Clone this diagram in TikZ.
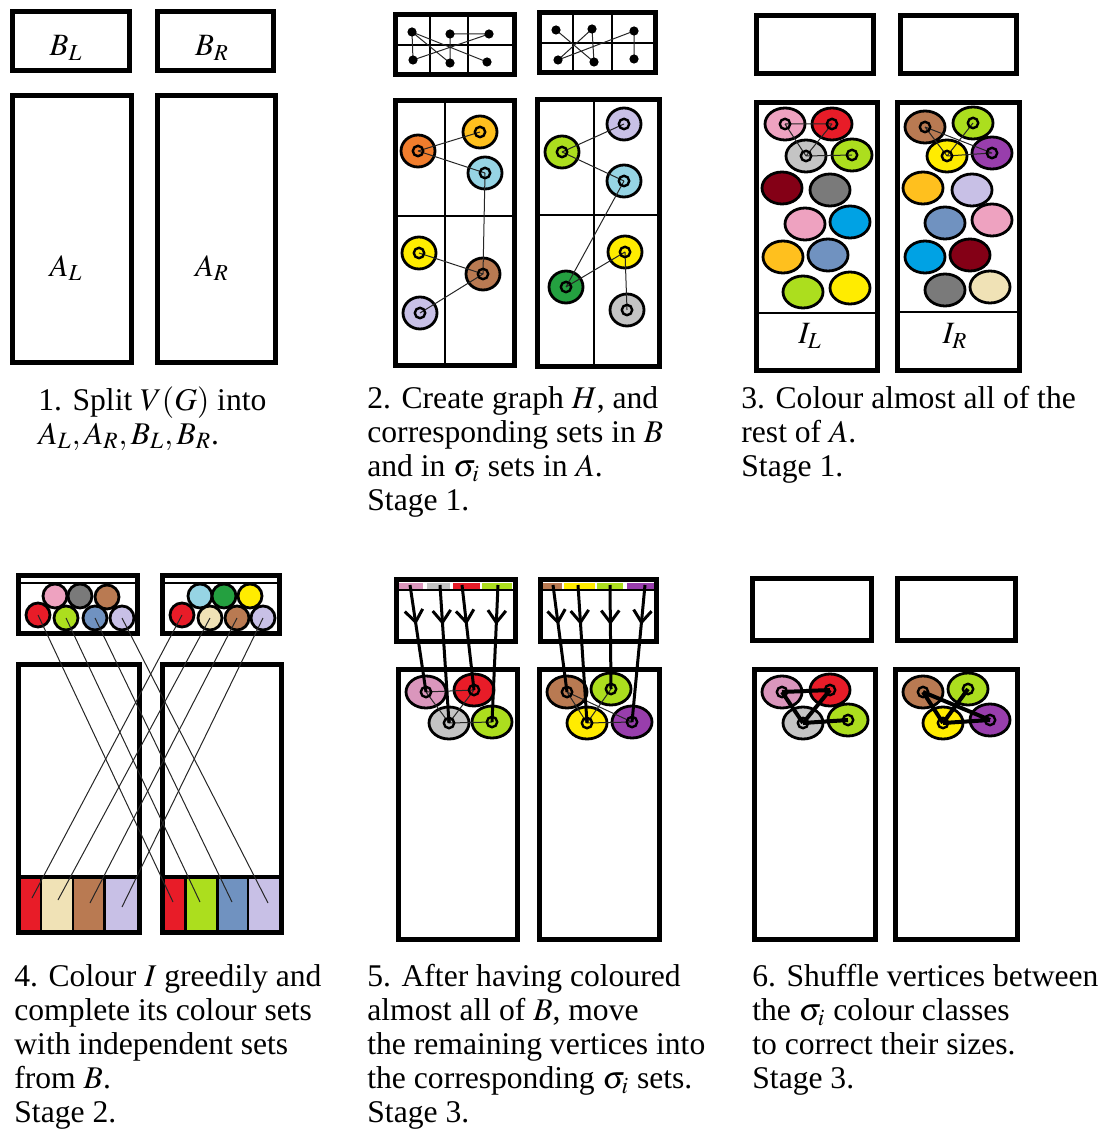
\documentclass[tikz,border=0pt]{standalone}
\usepackage{mathptmx}
\usepackage{fontspec}
\setmainfont{Liberation Serif}
\usetikzlibrary{arrows.meta,decorations.markings}

\definecolor{vOrange}{RGB}{240,125,45}
\definecolor{vGold}{RGB}{255,192,30}
\definecolor{vSky}{RGB}{150,212,228}
\definecolor{vYellow}{RGB}{255,236,0}
\definecolor{vBrown}{RGB}{185,122,82}
\definecolor{vLav}{RGB}{200,192,230}
\definecolor{vLime}{RGB}{172,222,30}
\definecolor{vGreen}{RGB}{36,160,64}
\definecolor{vSilver}{RGB}{196,196,196}
\definecolor{vPink}{RGB}{238,162,192}
\definecolor{vMauve}{RGB}{218,150,188}
\definecolor{vRed}{RGB}{232,28,40}
\definecolor{vMaroon}{RGB}{132,0,22}
\definecolor{vGrey}{RGB}{122,122,122}
\definecolor{vBlue}{RGB}{0,162,228}
\definecolor{vSteel}{RGB}{112,146,192}
\definecolor{vPurple}{RGB}{152,62,172}
\definecolor{vCream}{RGB}{240,226,182}

\tikzset{
  boxline/.style={line width=2.5pt},
  divline/.style={line width=1.4pt},
  vert/.style={line width=1.4pt,draw=black},
  ringline/.style={line width=1.2pt},
  gline/.style={line width=0.5pt,black!85},
  thickline/.style={line width=2pt},
  pushline/.style={line width=1.5pt,postaction={decorate},
    decoration={markings,mark=at position 20pt with {\arrow{Straight Barb[length=6pt,width=9pt]}}}},
  lab/.style={font=\fontsize{15.5}{18}\selectfont,inner sep=0pt},
  captext/.style={font=\fontsize{15.8}{17}\selectfont,align=left,anchor=north west,inner sep=0pt}
}

% vertex: name, position, colour, x radius
\newcommand{\vtx}[4]{\coordinate (#1) at #2;
  \filldraw[vert,fill=#3] (#1) ellipse [x radius=#4,y radius=8pt];}
\newcommand{\vring}[1]{\draw[ringline] (#1) circle [radius=2.6pt];}

\begin{document}
\begin{tikzpicture}[x=0.5pt,y=-0.5pt]
\useasboundingbox (0,0) rectangle (1107,1133);

%%% 1. split
\draw[boxline] (12.5,11.5) rectangle (129,70.5);
\draw[boxline] (157.5,11.5) rectangle (273.5,70.5);
\draw[boxline] (12.5,95.5) rectangle (131.5,362.5);
\draw[boxline] (157.5,95.5) rectangle (275.5,362.5);
\node[lab] (bl) at (66,48) {$B_L$};
\node[lab] (br) at (212,48) {$B_R$};
\node[lab] (al) at (66,268) {$A_L$};
\node[lab] (ar) at (212,268) {$A_R$};

%%% 2. graph H
\draw[divline] (430,14.5) -- (430,74.5) (468,14.5) -- (468,74.5) (395.5,45) -- (514.5,45);
\draw[divline] (573,12.5) -- (573,72.5) (612,12.5) -- (612,72.5) (539.5,43) -- (655.5,43);
\draw[boxline] (395.5,14.5) rectangle (514.5,74.5);
\draw[boxline] (539.5,12.5) rectangle (655.5,72.5);
\foreach \n/\x/\y in {a1/412/32,a2/450/34,a3/489/34,a4/413/60,a5/450/63,a6/487/62,
                      b1/556/30,b2/592/29,b3/634/31,b4/558/60,b5/594/62,b6/634/59}
  {\coordinate (\n) at (\x,\y);}
\draw[gline] (a1) -- (a4) (a1) -- (a5) (a1) -- (a6) (a2) -- (a3) (a3) -- (a4) (a2) -- (a5);
\draw[gline] (b1) -- (b5) (b2) -- (b4) (b4) -- (b3) (b2) -- (b5) (b3) -- (b6);
\foreach \n in {a1,a2,a3,a4,a5,a6,b1,b2,b3,b4,b5,b6}
  {\fill (\n) circle [radius=2.3pt];}

\draw[divline] (445,100.5) -- (445,365.5) (395.5,216) -- (514.5,216);
\draw[divline] (594,99.5) -- (594,366.5) (537.5,215) -- (659.5,215);
\draw[boxline] (395.5,100.5) rectangle (514.5,365.5);
\draw[boxline] (537.5,99.5) rectangle (659.5,366.5);
\vtx{h1}{(418,151)}{vOrange}{8.5pt}
\vtx{h2}{(480,132)}{vGold}{8.5pt}
\vtx{h3}{(485,173)}{vSky}{8.5pt}
\vtx{h4}{(419,253)}{vYellow}{8.5pt}
\vtx{h5}{(483,274)}{vBrown}{8.5pt}
\vtx{h6}{(420,313)}{vLav}{8.5pt}
\vtx{k1}{(562,152)}{vLime}{8.5pt}
\vtx{k2}{(624,124)}{vLav}{8.5pt}
\vtx{k3}{(624,181)}{vSky}{8.5pt}
\vtx{k4}{(625,252)}{vYellow}{8.5pt}
\vtx{k5}{(566,287)}{vGreen}{8.5pt}
\vtx{k6}{(627,310)}{vSilver}{8.5pt}
\draw[gline] (h1) -- (h2) (h1) -- (h3) (h3) -- (h5) (h4) -- (h5) (h5) -- (h6);
\draw[gline] (k1) -- (k2) (k1) -- (k3) (k3) -- (k5) (k5) -- (k4) (k4) -- (k6);
\foreach \n in {h1,h2,h3,h4,h5,h6,k1,k2,k3,k4,k5,k6} {\vring{\n}}

%%% 3. colour the rest of A
\draw[boxline] (756.5,15.5) rectangle (873.5,73.5);
\draw[boxline] (900.5,15.5) rectangle (1016.5,73.5);
\draw[boxline] (756.5,102.5) rectangle (877.5,370.5);
\draw[boxline] (897.5,102.5) rectangle (1019.5,370.5);
\draw[divline] (756.5,313) -- (877.5,313);
\draw[divline] (897.5,312) -- (1019.5,312);
\node[lab] (il) at (810,336) {$I_L$};
\node[lab] (ir) at (955,336) {$I_R$};
\vtx{c1}{(785,124)}{vPink}{10pt}
\vtx{c2}{(832,124)}{vRed}{10pt}
\vtx{c3}{(806,156)}{vSilver}{10pt}
\vtx{c4}{(852,155)}{vLime}{10pt}
\vtx{c5}{(782,188)}{vMaroon}{10pt}
\vtx{c6}{(830,190)}{vGrey}{10pt}
\vtx{c7}{(805,224)}{vPink}{10pt}
\vtx{c8}{(850,222)}{vBlue}{10pt}
\vtx{c9}{(783,257)}{vGold}{10pt}
\vtx{c10}{(828,255)}{vSteel}{10pt}
\vtx{c11}{(803,292)}{vLime}{10pt}
\vtx{c12}{(850,288)}{vYellow}{10pt}
\vtx{d1}{(925,127)}{vBrown}{10pt}
\vtx{d2}{(973,123)}{vLime}{10pt}
\vtx{d3}{(947,156)}{vYellow}{10pt}
\vtx{d4}{(992,153)}{vPurple}{10pt}
\vtx{d5}{(923,188)}{vGold}{10pt}
\vtx{d6}{(972,190)}{vLav}{10pt}
\vtx{d7}{(945,223)}{vSteel}{10pt}
\vtx{d8}{(992,220)}{vPink}{10pt}
\vtx{d9}{(925,257)}{vBlue}{10pt}
\vtx{d10}{(970,255)}{vMaroon}{10pt}
\vtx{d11}{(945,290)}{vGrey}{10pt}
\vtx{d12}{(990,287)}{vCream}{10pt}
\draw[gline] (c1) -- (c2) (c1) -- (c3) (c2) -- (c3) (c3) -- (c4);
\draw[gline] (d1) -- (d3) (d1) -- (d4) (d2) -- (d3) (d3) -- (d4);
\foreach \n in {c1,c2,c3,c4,d1,d2,d3,d4} {\vring{\n}}

%%% 4. colour I greedily
\draw[divline] (18.5,583) -- (137.5,583);
\draw[divline] (162.5,583) -- (279.5,583);
\draw[boxline] (18.5,575.5) rectangle (137.5,633.5);
\draw[boxline] (162.5,575.5) rectangle (279.5,633.5);
\foreach \n/\x/\y/\c in {s1/55/596/vPink,s2/80/596/vGrey,s3/107/597/vBrown,
                         s4/38/615/vRed,s5/66/618/vLime,s6/95/618/vSteel,s7/122/618/vLav,
                         t1/200/596/vSky,t2/224/596/vGreen,t3/250/596/vYellow,
                         t4/182/615/vRed,t5/210/618/vCream,t6/237/618/vBrown,t7/263/618/vLav}
  {\coordinate (\n) at (\x,\y); \filldraw[vert,fill=\c] (\n) circle [radius=6pt];}

\foreach \a/\b/\c in {20/41/vRed,41/73/vCream,73/104.5/vBrown,104.5/137/vLav}
  {\fill[\c] (\a,877) rectangle (\b,932);}
\foreach \a/\b/\c in {164/185.5/vRed,185.5/217.5/vLime,217.5/248/vSteel,248/281/vLav}
  {\fill[\c] (\a,877) rectangle (\b,932);}
\draw[divline] (41,877) -- (41,932) (73,877) -- (73,932) (104.5,877) -- (104.5,932);
\draw[divline] (185.5,877) -- (185.5,932) (217.5,877) -- (217.5,932) (248,877) -- (248,932);
\draw[thickline] (18.5,877) -- (139.5,877);
\draw[thickline] (162.5,877) -- (281,877);
\draw[boxline] (18.5,664.5) rectangle (139.5,932.5);
\draw[boxline] (162.5,664.5) rectangle (281,932.5);
\foreach \n/\x/\y in {l1/32/898,l2/58/900,l3/90/903,l4/122/907,
                      r1/173/902,r2/200/902,r3/232/902,r4/268/903}
  {\coordinate (\n) at (\x,\y);}
\draw[gline] (s4) -- (r1) (s5) -- (r2) (s6) -- (r3) (s7) -- (r4);
\draw[gline] (t4) -- (l1) (t5) -- (l2) (t6) -- (l3) (t7) -- (l4);

%%% 5. move the remaining vertices
\foreach \a/\b/\c in {399/423/vMauve,427/450/vSilver,453/480/vRed,482/512/vLime,
                      543/562/vBrown,564/595/vYellow,597/623/vLime,627/657/vPurple}
  {\fill[\c] (\a,582.5) rectangle (\b,588.5);}
\draw[divline] (396.5,590) -- (515.5,590);
\draw[divline] (540.5,590) -- (656.5,590);
\draw[boxline] (396.5,579.5) rectangle (515.5,641.5);
\draw[boxline] (540.5,579.5) rectangle (656.5,641.5);
\draw[boxline] (398.5,669.5) rectangle (517.5,939.5);
\draw[boxline] (539.5,669.5) rectangle (659.5,939.5);
\vtx{e1}{(426,692)}{vMauve}{10pt}
\vtx{e2}{(474,690)}{vRed}{10pt}
\vtx{e3}{(449,723)}{vSilver}{10pt}
\vtx{e4}{(492,722)}{vLime}{10pt}
\vtx{f1}{(567,692)}{vBrown}{10pt}
\vtx{f2}{(611,689)}{vLime}{10pt}
\vtx{f3}{(587,723)}{vYellow}{10pt}
\vtx{f4}{(632,722)}{vPurple}{10pt}
\draw[gline] (e1) -- (e2) (e1) -- (e3) (e2) -- (e3) (e3) -- (e4);
\draw[gline] (f1) -- (f3) (f1) -- (f4) (f2) -- (f3) (f3) -- (f4);
\foreach \n in {e1,e2,e3,e4,f1,f2,f3,f4} {\vring{\n}}
\foreach \n/\x in {m1/410,m2/440,m3/462,m4/498,n1/553,n2/578,n3/610,n4/645}
  {\coordinate (\n) at (\x,585);}
\draw[pushline] (m1) -- (e1);
\draw[pushline] (m2) -- (e3);
\draw[pushline] (m3) -- (e2);
\draw[pushline] (m4) -- (e4);
\draw[pushline] (n1) -- (f1);
\draw[pushline] (n2) -- (f3);
\draw[pushline] (n3) -- (f2);
\draw[pushline] (n4) -- (f4);

%%% 6. shuffle
\draw[boxline] (752.5,578.5) rectangle (871.5,640.5);
\draw[boxline] (897.5,578.5) rectangle (1015.5,640.5);
\draw[boxline] (754.5,669.5) rectangle (875.5,939.5);
\draw[boxline] (895.5,669.5) rectangle (1017.5,939.5);
\vtx{g1}{(782,692)}{vMauve}{10pt}
\vtx{g2}{(830,690)}{vRed}{10pt}
\vtx{g3}{(803,723)}{vSilver}{10pt}
\vtx{g4}{(848,720)}{vLime}{10pt}
\vtx{q1}{(923,692)}{vBrown}{10pt}
\vtx{q2}{(968,689)}{vLime}{10pt}
\vtx{q3}{(943,723)}{vYellow}{10pt}
\vtx{q4}{(990,720)}{vPurple}{10pt}
\draw[thickline] (g1) -- (g2) (g1) -- (g3) (g2) -- (g3) (g3) -- (g4);
\draw[thickline] (q1) -- (q3) (q1) -- (q4) (q2) -- (q3) (q3) -- (q4);
\foreach \n in {g1,g2,g3,g4,q1,q2,q3,q4} {\vring{\n}}

%%% captions
\node[captext] (cap1) at (38,386) {1. Split $V(G)$ into\\$A_L, A_R, B_L, B_R$.};
\node[captext] (cap2) at (367,386) {2. Create graph $H$, and\\corresponding sets in $B$\\and in $\sigma_i$ sets in $A$.\\Stage 1.};
\node[captext] (cap3) at (741,386) {3. Colour almost all of the\\rest of $A$.\\Stage 1.};
\node[captext] (cap4) at (14,964) {4. Colour $I$ greedily and\\complete its colour sets\\with independent sets\\from $B$.\\Stage 2.};
\node[captext] (cap5) at (367,964) {5. After having coloured\\almost all of $B$, move\\the remaining vertices into\\the corresponding $\sigma_i$ sets.\\Stage 3.};
\node[captext] (cap6) at (752,964) {6. Shuffle vertices between\\the $\sigma_i$ colour classes\\to correct their sizes.\\Stage 3.};

\end{tikzpicture}
\end{document}
